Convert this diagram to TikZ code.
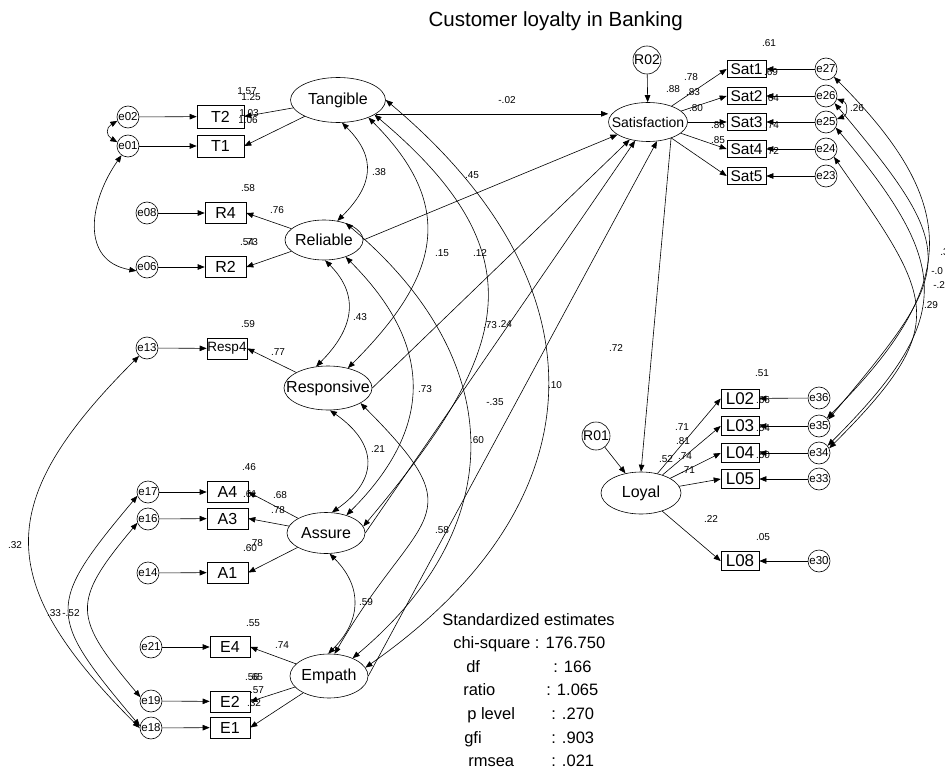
\documentclass[tikz,border=0pt]{standalone}
\usepackage{fontspec}
\setmainfont{Liberation Sans}
\usetikzlibrary{arrows.meta,shapes.geometric}

\begin{document}
\begin{tikzpicture}[x=1pt, y=-1pt, line width=0.6pt,
  zerotext/.style={execute at begin node={\hbox to 0pt\bgroup\hss}, execute at end node={\hss\egroup}},
  latent/.style={zerotext, ellipse, draw, inner sep=0pt, minimum width=78pt, minimum height=41pt, font=\fontsize{16}{19}\selectfont},
  indic/.style={rectangle, draw, inner sep=0pt, minimum width=41pt, minimum height=21pt, font=\fontsize{16}{19}\selectfont},
  err/.style={zerotext, circle, draw, inner sep=0pt, minimum size=22pt, font=\fontsize{11.5}{12}\selectfont},
  resid/.style={err, minimum size=28pt, font=\fontsize{14}{15}\selectfont},
  regpath/.style={-{Triangle[length=7pt,width=5.5pt]}},
  covpath/.style={{Triangle[length=7pt,width=5.5pt]}-{Triangle[length=7pt,width=5.5pt]}},
  est/.style={inner sep=0pt, font=\fontsize{10}{11}\selectfont},
  fitstat/.style={inner sep=0pt, anchor=base west, font=\fontsize{16.5}{18}\selectfont}]
\useasboundingbox (0,0) rectangle (945,773);
\clip (0,0) rectangle (945,773);

\node[anchor=base east, inner sep=0pt, font=\fontsize{20.5}{24}\selectfont] (title) at (683,27) {Customer loyalty in Banking};

% latent variables
\node[latent, minimum width=95pt, minimum height=45pt] (tang) at (338,100) {Tangible};
\node[latent, minimum height=40pt] (reli) at (324,240) {Reliable};
\node[latent, minimum width=88pt, minimum height=44pt] (resp) at (328,388) {Responsive};
\node[latent] (assu) at (326,533) {Assure};
\node[latent, minimum height=44pt] (empa) at (329,676) {Empath};
\node[latent, minimum width=79pt, minimum height=39pt, font=\fontsize{14}{16}\selectfont] (sat) at (648,122) {Satisfaction};
\node[latent, minimum width=80pt, minimum height=42pt] (loyal) at (641,493) {Loyal};

% observed items, left
\node[indic, minimum width=47pt, minimum height=23pt] (T2) at (220.5,116.5) {T2};
\node[indic, minimum width=47pt, minimum height=22pt] (T1) at (220.5,146) {T1};
\foreach \n/\y in {R4/213, R2/267} \node[indic] (\n) at (225.5,\y) {\n};
\node[indic, minimum width=40pt, font=\fontsize{13.5}{15}\selectfont] (Resp4) at (227,348.5) {Resp4};
\foreach \n/\y in {A4/492, A3/518.5, A1/572.5} \node[indic] (\n) at (227.5,\y) {\n};
\foreach \n/\y in {E4/647, E2/701.5, E1/727.5} \node[indic, minimum width=40pt] (\n) at (230,\y) {\n};

% observed items, right
\foreach \n/\y in {Sat1/69, Sat2/96, Sat3/122, Sat4/149, Sat5/176}
  \node[indic, minimum width=39pt, minimum height=17pt, font=\fontsize{15.5}{17}\selectfont] (\n) at (746.5,\y) {\n};
\foreach \n/\y in {L02/398.5, L03/426, L04/453, L05/479, L08/561}
  \node[indic, minimum width=38pt, minimum height=19pt, font=\fontsize{17}{19}\selectfont] (\n) at (740,\y) {\n};

% error terms
\foreach \n/\x/\y in {e02/128/117, e01/128/146, e08/147/213, e06/147/267, e13/147/348,
  e17/148/492, e16/148/519, e14/148/573, e21/151/647, e19/151/701, e18/151/728,
  e27/826/69, e26/826/96, e25/826/122, e24/826/149, e23/826/176,
  e36/819/398, e35/819/426, e34/819/453, e33/819/479, e30/819/561}
  \node[err] (\n) at (\x,\y) {\n};
\node[resid] (R02) at (647,60) {R02};
\node[resid] (R01) at (596,436) {R01};

% loadings
\draw[regpath] (tang) -- (T2.east);
\draw[regpath] (tang) -- (T1.east);
\draw[regpath] (reli) -- (R4.east);
\draw[regpath] (reli) -- (R2.east);
\draw[regpath] (resp) -- (Resp4.east);
\foreach \b in {A4,A3,A1} \draw[regpath] (assu) -- (\b.east);
\foreach \b in {E4,E2,E1} \draw[regpath] (empa) -- (\b.east);
\foreach \b in {Sat1,Sat2,Sat3,Sat4,Sat5} \draw[regpath] (sat) -- (\b.west);
\foreach \b in {L02,L03,L04,L05,L08} \draw[regpath] (loyal) -- (\b.west);

% error arrows
\foreach \e/\b in {e02/T2, e01/T1, e08/R4, e06/R2, e13/Resp4, e17/A4, e16/A3, e14/A1,
  e21/E4, e19/E2, e18/E1, e27/Sat1, e26/Sat2, e25/Sat3, e24/Sat4, e23/Sat5,
  e36/L02, e35/L03, e34/L04, e33/L05, e30/L08}
  \draw[regpath] (\e) -- (\b);
\draw[regpath] (R02) -- (sat);
\draw[regpath] (R01) -- (loyal);

% structural paths
\draw[regpath] (tang.-20) -- (tang.-20 -| sat.west);
\draw[regpath] (reli.east) -- (sat);
\draw[regpath] (resp.east) -- (sat);
\draw[regpath] (assu.east) -- (sat);
\draw[regpath] (empa.east) -- (sat.-65);
\draw[regpath] (sat.-35) -- (loyal.north);

% covariances between the service factors
\draw[covpath] (tang.-80) to[out=-45, in=45, looseness=1.3] (reli.55);
\draw[covpath] (reli.-87) to[out=-45, in=45, looseness=1.23] (resp.119);
\draw[covpath] (resp.-85) to[out=-35, in=35, looseness=1.45] (assu.74);
\draw[covpath] (assu.-80) to[out=-45, in=45, looseness=1.2] (empa.92);
\draw[covpath] (tang.-30) to[out=-45, in=45, looseness=1.3] (resp.45);
\draw[covpath] (tang.-22) to[out=-40, in=50, looseness=1.38] (assu.10);
\draw[covpath] (tang.east) to[out=-40, in=35, looseness=1.3] (empa.13);
\draw[covpath] (reli.-38) to[out=-45, in=45, looseness=1.23] (assu.41);
\draw[covpath] (reli.38) to[out=-40, in=40, looseness=1.23] (empa.37);
\draw[covpath] (resp.-25) to[out=-45, in=60, looseness=1.7] (empa.76);

% covariances between error terms
\draw[covpath] (e02.200) to[out=-150, in=150, looseness=1.6] (e01.160);
\draw[covpath] (e01.235) to[out=-125, in=170, looseness=1.25] (e06.200);
\draw[covpath] (e13.225) to[out=-135, in=135, looseness=1.42] (e18.180);
\draw[covpath] (e17.200) to[out=-130, in=130, looseness=1.6] (e18.170);
\draw[covpath] (e16.200) to[out=-130, in=130, looseness=1.53] (e19.160);
\draw[covpath] (e26.-15) to[out=-20, in=20, looseness=1.5] (e25.15);
\draw[covpath] (e27.-45) to[out=-45, in=45, looseness=1.38] (e35.45);
\draw[covpath] (e26.-40) to[out=-50, in=50, looseness=1.6] (e35.35);
\draw[covpath] (e25.-30) to[out=-50, in=45, looseness=1.45] (e34.40);
\draw[covpath] (e24.-45) to[out=-55, in=45, looseness=1.53] (e34.25);

% estimates, left side
\foreach \x/\y/\v [count=\i] in {247/91/1.57, 251/97/1.25, 249/113/1.03, 248/120/1.06,
  248/188/.58, 277/210/.76, 247/242/.54, 251/242/.73, 248/324/.59, 278/352/.77,
  249/467/.46, 250/494/.61, 280/495/.68, 278/510/.78, 256/543/.78, 250/548/.60,
  253/623/.55, 282/645/.74, 252/677/.56, 256/677/.65, 257/690/.57, 254/703/.32,
  15/545/.32, 54/613/.33, 71/613/-.52}
  \node[est] (lw\i) at (\x,\y) {\v};

% estimates, middle
\foreach \x/\y/\v [count=\i] in {379/172/.38, 360/317/.43, 378/449/.21, 366/602/.59,
  442/253/.15, 480/253/.12, 555/385/.10, 425/389/.73, 477/440/.60, 442/530/.58,
  507/100/-.02, 472/175/.45, 490/325/.73, 505/324/.24, 495/402/-.35, 616/348/.72}
  \node[est] (md\i) at (\x,\y) {\v};

% estimates, right side
\foreach \x/\y/\v [count=\i] in {673/89/.88, 691/77/.78, 693/92/.83, 696/108/.80,
  718/125/.86, 718/140/.85, 769/43/.61, 771/72/.69, 772/98/.64, 772/125/.74,
  772/151/.72, 857/108/.26, 931/305/.29,
  762/373/.51, 763/400/.66, 763/428/.54, 763/455/.50, 682/427/.71, 683/441/.81,
  685/456/.74, 688/470/.71, 666/459/.52, 711/519/.22, 763/537/.05}
  \node[est] (rt\i) at (\x,\y) {\v};
\foreach \x/\y/\v [count=\i] in {940/252/.3, 931/271/-.0, 933/285/-.2}
  \node[est, anchor=west] (cut\i) at (\x,\y) {\v};

% fit statistics
\node[fitstat] (stdest) at (442,625) {Standardized estimates};
\node[fitstat] (chisq) at (453,648.6) {chi-square : 176.750};
\foreach \y/\nm/\xn/\val/\xv [count=\i] in {672.2/df/466/: 166/553, 695.8/ratio/463/: 1.065/546,
  719.4/p level/467/: .270/551, 743/gfi/464/: .903/551, 766.6/rmsea/468/: .021/551}
{
  \node[fitstat] (fn\i) at (\xn,\y) {\nm};
  \node[fitstat] (fv\i) at (\xv,\y) {\val};
}
\end{tikzpicture}
\end{document}
